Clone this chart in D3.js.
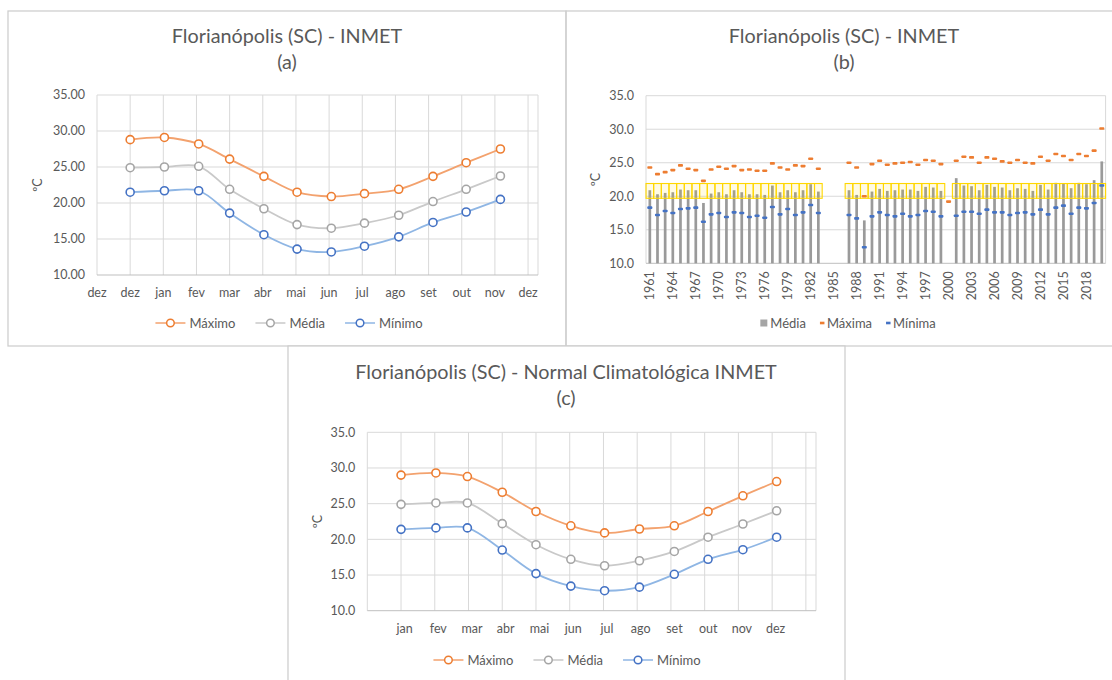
<!DOCTYPE html>
<html>
<head>
<meta charset="utf-8">
<script src="https://cdn.jsdelivr.net/npm/d3@7"></script>
<style>
  body { margin: 0; background: #fff; }
  svg { display: block; font-family: Lato, "Open Sans", sans-serif; }
  .tick-label { fill: #595959; font-size: 12.5px; }
  .title { fill: #595959; font-size: 19.8px; }
  .legend-text { fill: #595959; font-size: 13px; }
</style>
</head>
<body>
<svg id="chart" width="1112" height="680"></svg>
<script>
// ---- (a) monthly averages, dez..nov
const monthsA = ['dez', 'jan', 'fev', 'mar', 'abr', 'mai', 'jun', 'jul', 'ago', 'set', 'out', 'nov']
const axisLabelsA = ['dez', 'dez', 'jan', 'fev', 'mar', 'abr', 'mai', 'jun', 'jul', 'ago', 'set', 'out', 'nov', 'dez']
const maxA = [28.8, 29.1, 28.2, 26.1, 23.7, 21.5, 20.9, 21.3, 21.9, 23.7, 25.6, 27.5]
const meanA = [24.9, 25.0, 25.1, 21.9, 19.2, 17.0, 16.5, 17.2, 18.3, 20.2, 21.9, 23.75]
const minA = [21.5, 21.7, 21.7, 18.6, 15.6, 13.6, 13.2, 14.0, 15.3, 17.3, 18.75, 20.5]

// ---- (c) climatological normal, jan..dez
const monthsC = ['jan', 'fev', 'mar', 'abr', 'mai', 'jun', 'jul', 'ago', 'set', 'out', 'nov', 'dez']
const maxC = [29.0, 29.3, 28.8, 26.6, 23.9, 21.9, 20.9, 21.45, 21.9, 23.9, 26.1, 28.1]
const meanC = [24.9, 25.1, 25.1, 22.2, 19.25, 17.2, 16.3, 17.0, 18.3, 20.3, 22.15, 24.0]
const minC = [21.4, 21.6, 21.6, 18.5, 15.2, 13.45, 12.8, 13.3, 15.1, 17.2, 18.55, 20.3]

// ---- (b) yearly series 1961..2020 (null = no data)
const years = d3.range(1961, 2021)
const yearTicks = [1961, 1964, 1967, 1970, 1973, 1976, 1979, 1982, 1985, 1988, 1991, 1994, 1997, 2000, 2003, 2006, 2009, 2012, 2015, 2018]
const meanB = [20.9, 20.3, 20.5, 20.6, 21.0, 20.9, 20.9, 19.0, 20.4, 20.6, 20.3, 20.9, 20.6, 20.3, 20.3, 20.2, 21.6, 20.6, 20.9, 20.6,
  20.9, 21.8, 20.7, null, null, null, 20.9, 20.2, 16.4, 20.7, 21.1, 20.8, 20.9, 21.0, 21.0, 20.8, 21.4, 21.3, 20.8, null,
  22.7, 21.6, 21.5, 20.9, 21.7, 21.4, 21.3, 20.9, 21.2, 21.1, 20.8, 21.7, 21.0, 22.0, 21.9, 21.2, 22.0, 21.8, 22.4, 25.2]
const maxB = [24.3, 23.3, 23.6, 23.9, 24.6, 24.1, 23.9, 22.3, 24.0, 24.4, 24.1, 24.5, 23.9, 24.0, 23.8, 23.8, 24.9, 24.3, 24.0, 24.6,
  24.5, 25.6, 24.1, null, null, null, 25.0, 24.3, 20.0, 24.8, 25.3, 24.7, 24.9, 25.0, 25.1, 24.7, 25.4, 25.3, 24.8, 19.2,
  25.3, 25.9, 25.8, 25.0, 25.8, 25.6, 25.2, 25.0, 25.4, 25.0, 24.9, 25.9, 25.3, 26.3, 26.0, 25.4, 26.3, 26.0, 26.8, 30.1]
const minB = [18.3, 17.2, 17.8, 17.5, 18.1, 18.2, 18.3, 16.2, 17.3, 17.5, 16.9, 17.6, 17.5, 16.9, 17.1, 16.8, 18.4, 17.3, 18.1, 17.2,
  17.6, 18.7, 17.5, null, null, null, 17.2, 16.7, 12.4, 17.0, 17.6, 17.2, 17.0, 17.4, 17.0, 17.2, 17.8, 17.7, 17.0, null,
  17.1, 17.7, 17.7, 17.4, 18.0, 17.6, 17.6, 17.2, 17.5, 17.6, 17.3, 18.0, 17.3, 18.3, 18.6, 17.4, 18.3, 18.2, 19.0, 21.6]
const normalBand = [19.7, 21.9] // yellow range drawn over the mean bars

const yTicks = [10, 15, 20, 25, 30, 35]

const colors = {
    max: '#ed7d31', maxLine: '#f3a26e',
    mean: '#a5a5a5', meanLine: '#c9c9c9',
    min: '#4472c4', minLine: '#8fb6e4',
    grid: '#d9d9d9', axis: '#bfbfbf', frame: '#cfcfcf', band: '#ffd700'
}

const svg = d3.select('#chart')

// outer frames
svg.append('rect').attr('x', 8).attr('y', 11).attr('width', 558).attr('height', 335)
    .attr('fill', 'none').attr('stroke', colors.frame).attr('stroke-width', 1.3)
svg.append('rect').attr('x', 566).attr('y', 11).attr('width', 560).attr('height', 335)
    .attr('fill', 'none').attr('stroke', colors.frame).attr('stroke-width', 1.3)

function drawTitle(g, cx, y, lines) {
    lines.forEach((t, i) => {
        g.append('text').attr('class', 'title')
            .attr('x', cx).attr('y', y + i * 26)
            .attr('text-anchor', 'middle').text(t)
    })
}

function drawYAxis(g, y, left, right, fmt, labelX) {
    g.selectAll('.hgrid').data(yTicks).join('line')
        .attr('x1', left).attr('x2', right)
        .attr('y1', d => y(d)).attr('y2', d => y(d))
        .attr('stroke', d => d === 10 ? colors.axis : colors.grid)
    g.selectAll('.ylab').data(yTicks).join('text')
        .attr('class', 'tick-label')
        .attr('x', left - 12).attr('y', d => y(d)).attr('dy', '0.35em')
        .attr('text-anchor', 'end')
        .text(d => d3.format(fmt)(d))
    const mid = (y.range()[0] + y.range()[1]) / 2
    g.append('text').attr('class', 'tick-label')
        .attr('transform', `translate(${labelX},${mid}) rotate(-90)`)
        .attr('text-anchor', 'middle').attr('dy', '0.35em')
        .text('ºC')
}

function drawLegend(g, cx, cy, items) {
    let lg = g.append('g')
    let x = 0
    items.forEach(it => {
        let item = lg.append('g').attr('transform', `translate(${x},0)`)
        let w = 0
        if (it.kind === 'line') {
            item.append('line').attr('x1', 0).attr('x2', 30).attr('y1', 0).attr('y2', 0)
                .attr('stroke', it.line).attr('stroke-width', 1.5)
            item.append('circle').attr('cx', 15).attr('cy', 0).attr('r', 3.8)
                .attr('fill', '#fff').attr('stroke', it.color).attr('stroke-width', 1.5)
            w = 34
        } else if (it.kind === 'square') {
            item.append('rect').attr('x', 0).attr('y', -3.5).attr('width', 7).attr('height', 7).attr('fill', it.color)
            w = 10
        } else {
            item.append('rect').attr('x', 0).attr('y', -1.3).attr('width', 4.5).attr('height', 2.6).attr('fill', it.color)
            w = 7
        }
        let t = item.append('text').attr('class', 'legend-text')
            .attr('x', w).attr('y', 0).attr('dy', '0.35em').text(it.name)
        x += w + t.node().getComputedTextLength() + it.gap
    })
    let bb = lg.node().getBBox()
    lg.attr('transform', `translate(${cx - bb.width / 2},${cy})`)
}

// ---- monthly panels (a) and (c)
function drawMonthly(cfg) {
    const g = svg.append('g')
    const dayMs = 864e5
    const origin = new Date(cfg.start.getTime() - 30 * dayMs)
    const x = d3.scaleUtc()
        .domain([origin, new Date(origin.getTime() + 13.3 * 30 * dayMs)])
        .range([cfg.left, cfg.right])
    const y = d3.scaleLinear().domain([10, 35]).range([cfg.bottom, cfg.top])

    const gridDates = d3.range(0, 14).map(k => new Date(origin.getTime() + k * 30 * dayMs))
    g.selectAll('.vgrid').data(gridDates).join('line')
        .attr('x1', d => x(d)).attr('x2', d => x(d))
        .attr('y1', cfg.top).attr('y2', cfg.bottom)
        .attr('stroke', colors.grid)
    g.append('line').attr('x1', cfg.right).attr('x2', cfg.right)
        .attr('y1', cfg.top).attr('y2', cfg.bottom).attr('stroke', colors.grid)
    drawYAxis(g, y, cfg.left, cfg.right, cfg.fmt, cfg.yLabelX)

    g.selectAll('.xlab').data(cfg.axisLabels).join('text')
        .attr('class', 'tick-label')
        .attr('x', (d, i) => x(gridDates[i + cfg.labelOffset]) + cfg.labelDx)
        .attr('y', cfg.bottom + 18)
        .attr('dy', '0.35em')
        .attr('text-anchor', 'middle')
        .text(d => d)

    const dates = cfg.months.map((m, i) => d3.utcMonth.offset(cfg.start, i))
    const series = [
        { name: 'Máximo', values: cfg.max, color: colors.max, line: colors.maxLine },
        { name: 'Média', values: cfg.mean, color: colors.mean, line: colors.meanLine },
        { name: 'Mínimo', values: cfg.min, color: colors.min, line: colors.minLine }
    ]
    const line = d3.line()
        .x((d, i) => x(dates[i]))
        .y(d => y(d))
        .curve(d3.curveCatmullRom.alpha(0.5))

    series.forEach(s => {
        g.append('path').attr('d', line(s.values))
            .attr('fill', 'none').attr('stroke', s.line).attr('stroke-width', 1.8)
        g.selectAll(null).data(s.values).join('circle')
            .attr('cx', (d, i) => x(dates[i])).attr('cy', d => y(d)).attr('r', 4)
            .attr('fill', '#fff').attr('stroke', s.color).attr('stroke-width', 1.6)
    })

    drawTitle(g, cfg.titleX, cfg.titleY, cfg.title)
    drawLegend(g, cfg.legendX, cfg.legendY,
        series.map(s => ({ kind: 'line', name: s.name, color: s.color, line: s.line, gap: 20 })))
}

drawMonthly({
    left: 97, right: 538, top: 95, bottom: 275,
    start: new Date(Date.UTC(2018, 11, 1)),
    months: monthsA, max: maxA, mean: meanA, min: minA,
    axisLabels: axisLabelsA, labelOffset: 0, labelDx: 0,
    fmt: '.2f', yLabelX: 38,
    titleX: 287, titleY: 43, title: ['Florianópolis (SC) - INMET', '(a)'],
    legendX: 289, legendY: 323
})

// ---- yearly panel (b)
;(function drawYearly() {
    const g = svg.append('g')
    const left = 646, right = 1105.6, top = 95.7, bottom = 263.3
    const x = d3.scaleBand().domain(years).range([left, right])
    const y = d3.scaleLinear().domain([10, 35]).range([bottom, top])

    g.append('line').attr('x1', left).attr('x2', left).attr('y1', top).attr('y2', bottom).attr('stroke', colors.grid)
    g.append('line').attr('x1', right).attr('x2', right).attr('y1', top).attr('y2', bottom).attr('stroke', colors.grid)
    drawYAxis(g, y, left, right, '.1f', 595.6)

    const rows = years.map((yr, i) => ({ year: yr, mean: meanB[i], max: maxB[i], min: minB[i] }))
    const bw = 2.7

    g.selectAll('.bar').data(rows.filter(d => d.mean != null)).join('rect')
        .attr('x', d => x(d.year) + x.bandwidth() / 2 - bw / 2)
        .attr('y', d => y(d.mean))
        .attr('width', bw)
        .attr('height', d => y(10) - y(d.mean))
        .attr('fill', '#9a9a9a')

    // yellow normal range cells
    g.selectAll('.band').data(rows.filter(d => d.mean != null)).join('rect')
        .attr('x', d => x(d.year))
        .attr('y', y(normalBand[1]))
        .attr('width', x.bandwidth())
        .attr('height', y(normalBand[0]) - y(normalBand[1]))
        .attr('fill', colors.band).attr('fill-opacity', 0.1)
        .attr('stroke', colors.band).attr('stroke-width', 1.1)

    g.selectAll('.maxpt').data(rows.filter(d => d.max != null)).join('rect')
        .attr('x', d => x(d.year) + x.bandwidth() / 2 - 2.5)
        .attr('y', d => y(d.max) - 1.3)
        .attr('width', 5).attr('height', 2.6).attr('rx', 0.8)
        .attr('fill', colors.max)
    g.selectAll('.minpt').data(rows.filter(d => d.min != null)).join('rect')
        .attr('x', d => x(d.year) + x.bandwidth() / 2 - 2.5)
        .attr('y', d => y(d.min) - 1.3)
        .attr('width', 5).attr('height', 2.6).attr('rx', 0.8)
        .attr('fill', colors.min)

    g.selectAll('.xlab').data(yearTicks).join('text')
        .attr('class', 'tick-label')
        .attr('transform', d => `translate(${x(d) + x.bandwidth() / 2},${bottom + 8}) rotate(-90)`)
        .attr('text-anchor', 'end').attr('dy', '0.35em')
        .text(d => d)

    drawTitle(g, 844, 43, ['Florianópolis (SC) - INMET', '(b)'])
    drawLegend(g, 848, 323, [
        { kind: 'square', name: 'Média', color: colors.mean, gap: 14 },
        { kind: 'dash', name: 'Máxima', color: colors.max, gap: 14 },
        { kind: 'dash', name: 'Mínima', color: colors.min, gap: 0 }
    ])
})()

// ---- panel (c) frame sits over the bottom border of (a)/(b)
svg.append('rect').attr('x', 288).attr('y', 346).attr('width', 557).attr('height', 340)
    .attr('fill', '#fff').attr('stroke', colors.frame).attr('stroke-width', 1.3)

drawMonthly({
    left: 367.3, right: 816, top: 432.3, bottom: 610.7,
    start: new Date(Date.UTC(2019, 0, 1)),
    months: monthsC, max: maxC, mean: meanC, min: minC,
    axisLabels: monthsC, labelOffset: 1, labelDx: 3.5,
    fmt: '.1f', yLabelX: 318,
    titleX: 566, titleY: 379, title: ['Florianópolis (SC) - Normal Climatológica INMET', '(c)'],
    legendX: 567, legendY: 660
})
</script>
</body>
</html>
